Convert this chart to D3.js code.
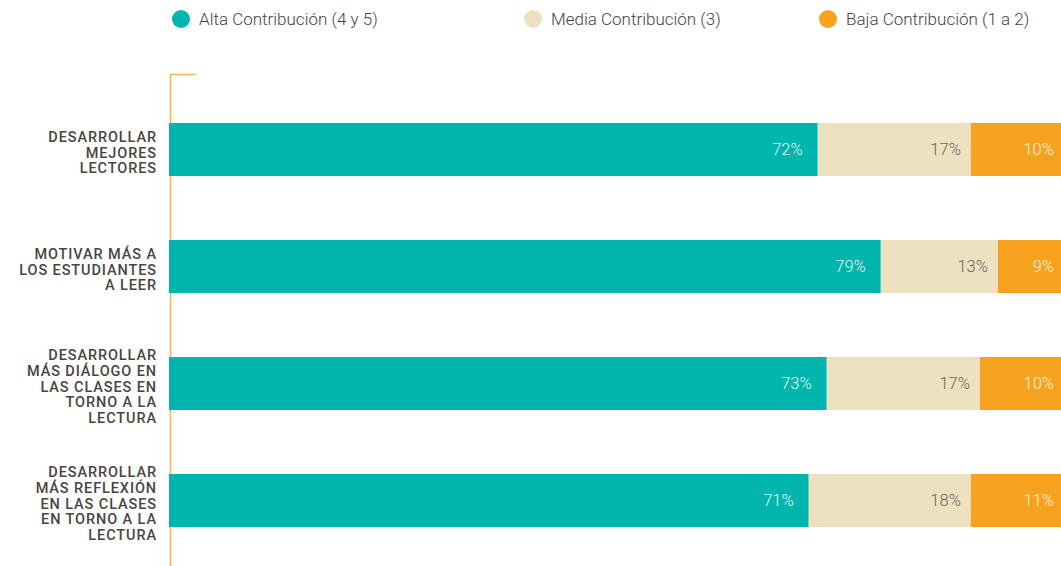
<!DOCTYPE html>
<html>
<head>
<meta charset="utf-8">
<script src="https://cdn.jsdelivr.net/npm/d3@7"></script>
<style>
  html, body { margin: 0; padding: 0; background: #fff; }
  svg { display: block; }
</style>
</head>
<body>
<div id="chart"></div>
<script>
// data
var categories = [
  ["DESARROLLAR", "MEJORES", "LECTORES"],
  ["MOTIVAR MÁS A", "LOS ESTUDIANTES", "A LEER"],
  ["DESARROLLAR", "MÁS DIÁLOGO EN", "LAS CLASES EN", "TORNO A LA", "LECTURA"],
  ["DESARROLLAR", "MÁS REFLEXIÓN", "EN LAS CLASES", "EN TORNO A LA", "LECTURA"]
];
var seriesNames = ["Alta Contribución (4 y 5)", "Media Contribución (3)", "Baja Contribución (1 a 2)"];
var alta = [72, 79, 73, 71];
var media = [17, 13, 17, 18];
var baja = [10, 9, 10, 11];
var colors = ["#00b5ad", "#ede1c0", "#f7a21f"];
var labelColors = ["#e3f6f4", "#6b6461", "#fff3de"];
var labelPad = [15, 10, 7];

var width = 1061, height = 566;
var svg = d3.select("#chart").append("svg")
    .attr("width", width)
    .attr("height", height);

var rows = categories.map(function(c, i) {
  return { i: i, lines: c, alta: alta[i], media: media[i], baja: baja[i] };
});
var keys = ["alta", "media", "baja"];
var stack = d3.stack().keys(keys)(rows);

var x = d3.scaleLinear().domain([0, 100]).range([169, 1070]);
var y = d3.scaleBand().domain(d3.range(rows.length)).range([123, 527])
    .paddingInner(64 / 117).paddingOuter(0);

// axis line
svg.append("path")
   .attr("d", "M196,74.5H170.5V566")
   .attr("fill", "none")
   .attr("stroke", "#f9b54a")
   .attr("stroke-width", 1.5);

// bars
stack.forEach(function(s, k) {
  svg.append("g").selectAll("rect")
    .data(s)
    .enter().append("rect")
    .attr("x", function(d) { return x(d[0]); })
    .attr("y", function(d) { return y(d.data.i); })
    .attr("width", function(d) { return x(d[1]) - x(d[0]); })
    .attr("height", y.bandwidth())
    .attr("fill", colors[k]);
});

// value labels
stack.forEach(function(s, k) {
  svg.append("g").selectAll("text")
    .data(s)
    .enter().append("text")
    .attr("x", function(d) { return Math.min(x(d[1]), width) - labelPad[k]; })
    .attr("y", function(d) { return y(d.data.i) + y.bandwidth() / 2; })
    .attr("dy", "0.36em")
    .attr("text-anchor", "end")
    .attr("font-family", "Roboto, 'Open Sans', sans-serif")
    .attr("font-weight", 300)
    .attr("font-size", 16.5)
    .attr("fill", labelColors[k])
    .text(function(d) { return d.data[s.key] + "%"; });
});

// category labels
var lineH = 15.8;
rows.forEach(function(r) {
  var cy = y(r.i) + y.bandwidth() / 2 + 8;
  var t = svg.append("text")
    .attr("text-anchor", "end")
    .attr("font-family", "Roboto, sans-serif")
    .attr("font-weight", 500)
    .attr("font-size", 14.5)
    .attr("letter-spacing", 0.9)
    .attr("fill", "#4a4440");
  r.lines.forEach(function(l, j) {
    t.append("tspan")
      .attr("x", 157)
      .attr("y", cy + (j - (r.lines.length - 1) / 2) * lineH)
      .text(l);
  });
});

// legend
var legendX = [181, 533, 828];
var legend = svg.selectAll("g.legend")
  .data(seriesNames)
  .enter().append("g")
  .attr("class", "legend")
  .attr("transform", function(d, i) { return "translate(" + legendX[i] + ",19)"; });
legend.append("circle")
  .attr("r", 9)
  .attr("fill", function(d, i) { return colors[i]; });
legend.append("text")
  .attr("x", 18)
  .attr("dy", "0.36em")
  .attr("font-family", "Roboto, sans-serif")
  .attr("font-weight", 300)
  .attr("font-size", 17)
  .attr("fill", "#4a4440")
  .text(function(d) { return d; });
</script>
</body>
</html>
